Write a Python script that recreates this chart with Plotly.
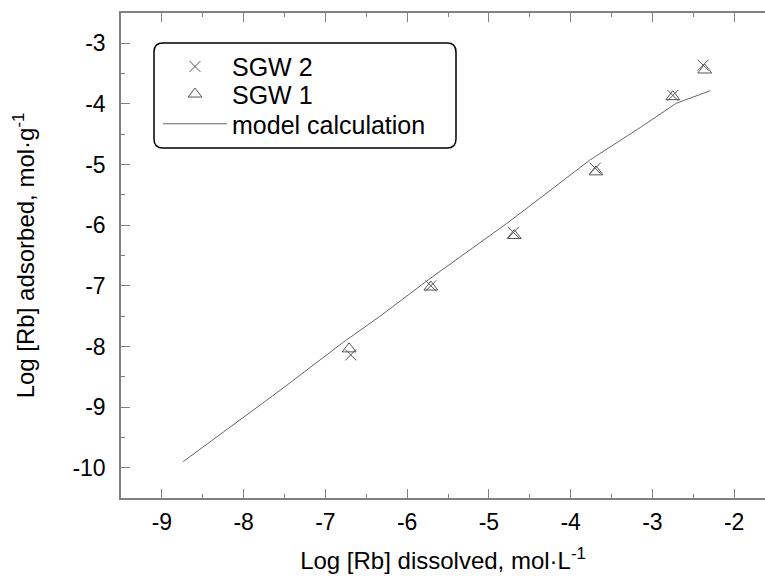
import plotly.graph_objects as go

# ---- data ----
sgw2_x = [-6.69, -5.71, -4.70, -3.70, -2.75, -2.38]
sgw2_y = [-8.14, -7.00, -6.12, -5.06, -3.86, -3.36]

sgw1_x = [-6.71, -5.71, -4.69, -3.69, -2.75, -2.36]
sgw1_y = [-8.04, -7.02, -6.17, -5.12, -3.88, -3.44]

model_x = [-8.74, -7.55, -6.78, -6.33, -5.72, -4.78, -4.38, -3.77, -3.15, -2.71, -2.29]
model_y = [-9.90, -8.72, -7.93, -7.50, -6.88, -5.97, -5.56, -4.93, -4.39, -3.99, -3.78]

x_ticks = [-9, -8, -7, -6, -5, -4, -3, -2]
y_ticks = [-10, -9, -8, -7, -6, -5, -4, -3]

W, H = 765, 577
ML, MR, MT, MB = 121, 0, 13, 79
PW, PH = W - ML - MR, H - MT - MB

FONT = "Liberation Sans, Arial, sans-serif"
AX = "#808080"
MK = "#555555"

fig = go.Figure()
fig.add_trace(go.Scatter(x=sgw2_x, y=sgw2_y, mode="markers", name="SGW 2", legend="legend",
                         marker=dict(symbol="x-thin-open", size=11, color=MK,
                                     line=dict(color=MK, width=1))))
fig.add_trace(go.Scatter(x=sgw1_x, y=sgw1_y, mode="markers", name="SGW 1", legend="legend2",
                         marker=dict(symbol="triangle-up-open", size=12, color=MK,
                                     line=dict(color=MK, width=1))))
fig.add_trace(go.Scatter(x=model_x, y=model_y, mode="lines", name="model calculation",
                         legend="legend3", line=dict(color="#666666", width=1)))

def px2paper(px, py):
    return (px - ML) / PW, 1 - (py - MT) / PH

# rounded legend frame
x0p, y0p, x1p, y1p, r = 154, 43, 456, 148, 9
def P(px, py):
    a, b = px2paper(px, py)
    return f"{a:.5f},{b:.5f}"
path = (f"M {P(x0p + r, y0p)} L {P(x1p - r, y0p)} Q {P(x1p, y0p)} {P(x1p, y0p + r)} "
        f"L {P(x1p, y1p - r)} Q {P(x1p, y1p)} {P(x1p - r, y1p)} "
        f"L {P(x0p + r, y1p)} Q {P(x0p, y1p)} {P(x0p, y1p - r)} "
        f"L {P(x0p, y0p + r)} Q {P(x0p, y0p)} {P(x0p + r, y0p)} Z")
fig.add_shape(type="path", path=path, xref="paper", yref="paper",
              line=dict(color="black", width=1.5))

LEG_X_PX = 158
row_px = [66.7, 94.3, 124.0]
def leg(py):
    lx, ly = px2paper(LEG_X_PX, py)
    return dict(x=lx, y=ly, xanchor="left", yanchor="middle",
                bgcolor="rgba(0,0,0,0)", borderwidth=0,
                font=dict(size=25, family=FONT, color="black"),
                itemwidth=64)

fig.update_layout(
    width=W, height=H,
    margin=dict(l=ML, r=MR, t=MT, b=MB, pad=0),
    paper_bgcolor="white", plot_bgcolor="white",
    font=dict(family=FONT, color="black", size=23),
    showlegend=True,
    legend=leg(row_px[0]), legend2=leg(row_px[1]), legend3=leg(row_px[2]),
    xaxis=dict(range=[-9.5, -1.623], tickvals=x_ticks, ticktext=[str(v) for v in x_ticks],
               showgrid=False, zeroline=False, showline=True, linecolor=AX, linewidth=1.5,
               mirror="ticks", ticks="inside", ticklen=9, tickwidth=1, tickcolor=AX,
               minor=dict(dtick=0.5, tick0=-9, ticks="inside", ticklen=4, tickcolor=AX, showgrid=False),
               tickfont=dict(size=23), ticklabelstandoff=3,
               title=dict(text="Log [Rb] dissolved, mol·L<sup>-1</sup>", font=dict(size=24),
                          standoff=18)),
    yaxis=dict(range=[-10.5, -2.5], tickvals=y_ticks, ticktext=[str(v) for v in y_ticks],
               showgrid=False, zeroline=False, showline=True, linecolor=AX, linewidth=1.5,
               ticks="inside", ticklen=9, tickwidth=1, tickcolor=AX,
               minor=dict(dtick=0.5, tick0=-10, ticks="inside", ticklen=4, tickcolor=AX, showgrid=False),
               tickfont=dict(size=23), ticklabelstandoff=9,
               title=dict(text="Log [Rb] adsorbed, mol·g<sup>-1</sup>", font=dict(size=24),
                          standoff=31)),
)

fig.write_html("out.html", config={"displayModeBar": False},
               post_script="document.body.style.margin='0';")
